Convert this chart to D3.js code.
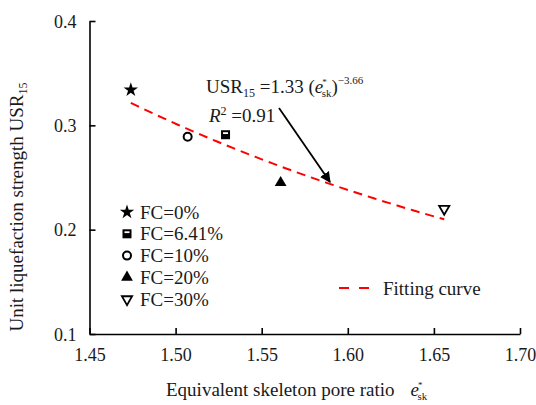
<!DOCTYPE html>
<html>
<head>
<meta charset="utf-8">
<script src="https://cdn.jsdelivr.net/npm/d3@7"></script>
</head>
<body style="margin:0">
<svg id="chart" width="536" height="405"></svg>
<script>
// data
var groups = ["FC=0%", "FC=6.41%", "FC=10%", "FC=20%", "FC=30%"];
var voidRatio = [1.474, 1.529, 1.507, 1.561, 1.656];
var usr15 = [0.334, 0.291, 0.289, 0.245, 0.220];
var xTicks = [1.45, 1.50, 1.55, 1.60, 1.65, 1.70];
var yTicks = [0.1, 0.2, 0.3, 0.4];
// fit: USR15 = 1.33 * e^-3.66
var fitA = 1.33, fitB = -3.66;
var fitRange = [1.474, 1.656];

const svg = d3.select("#chart");
const plotLeft = 89.5, plotRight = 520, plotTop = 21, plotBottom = 334;

var x = d3.scaleLinear().domain([1.45, 1.70]).range([plotLeft, plotRight]);
var y = d3.scaleLinear().domain([0.1, 0.4]).range([plotBottom, plotTop]);

function txt(sel, size) {
  return sel.style("font-family", "'Liberation Serif'").style("font-size", size + "px").attr("fill", "#1a1a1a");
}

// axes, ticks pointing inward
var xAxis = d3.axisBottom(x).tickValues(xTicks).tickSizeInner(-6).tickSizeOuter(0)
  .tickFormat(d3.format(".2f")).tickPadding(14);
var yAxis = d3.axisLeft(y).tickValues(yTicks).tickSizeInner(-6).tickSizeOuter(0)
  .tickFormat(d3.format(".1f")).tickPadding(13);

var gx = svg.append("g").attr("transform", "translate(0," + plotBottom + ")").call(xAxis);
var gy = svg.append("g").attr("transform", "translate(" + plotLeft + ",0)").call(yAxis);
[gx, gy].forEach(function (g) {
  g.attr("font-family", null);
  g.select(".domain").attr("stroke", "#000").attr("stroke-width", 1.6);
  g.selectAll(".tick line").attr("stroke", "#000").attr("stroke-width", 1.6);
  txt(g.selectAll(".tick text"), 18);
});
gy.selectAll(".tick text").attr("dy", "0.35em");

// fitting curve
var fitPts = d3.range(0, 41).map(function (i) {
  var e = fitRange[0] + (fitRange[1] - fitRange[0]) * i / 40;
  return [e, fitA * Math.pow(e, fitB)];
});
svg.append("path")
  .datum(fitPts)
  .attr("d", d3.line().x(function (d) { return x(d[0]); }).y(function (d) { return y(d[1]); }))
  .attr("fill", "none")
  .attr("stroke", "#ff0000")
  .attr("stroke-width", 2)
  .attr("stroke-dasharray", "9,6");

// marker drawing
function drawMarker(g, i) {
  if (i === 0) {
    g.append("path").attr("d", d3.symbol().type(d3.symbolStar).size(65)).attr("fill", "#000");
  } else if (i === 1) {
    g.append("rect").attr("x", -4.5).attr("y", -4.5).attr("width", 9).attr("height", 9).attr("fill", "#000");
    g.append("rect").attr("x", -2.5).attr("y", -2.5).attr("width", 5).attr("height", 1.8).attr("fill", "#fff");
  } else if (i === 2) {
    g.append("circle").attr("r", 4).attr("fill", "#fff").attr("stroke", "#000").attr("stroke-width", 2);
  } else if (i === 3) {
    g.append("path").attr("d", d3.symbol().type(d3.symbolTriangle).size(60)).attr("fill", "#000");
  } else {
    g.append("path").attr("d", d3.symbol().type(d3.symbolTriangle).size(45))
      .attr("transform", "rotate(180)")
      .attr("fill", "#fff").attr("stroke", "#000").attr("stroke-width", 1.8);
  }
}

groups.forEach(function (name, i) {
  var g = svg.append("g").attr("transform", "translate(" + x(voidRatio[i]) + "," + y(usr15[i]) + ")");
  drawMarker(g, i);
});

// legend
var legend = svg.append("g");
groups.forEach(function (name, i) {
  var row = legend.append("g").attr("transform", "translate(127," + (212 + i * 21.8) + ")");
  drawMarker(row, i);
  txt(row.append("text").attr("x", 13).attr("dy", "0.35em"), 19).text(name);
});
legend.append("line")
  .attr("x1", 339).attr("x2", 372).attr("y1", 288).attr("y2", 288)
  .attr("stroke", "#ff0000").attr("stroke-width", 2).attr("stroke-dasharray", "10,10");
txt(legend.append("text").attr("x", 383).attr("y", 288).attr("dy", "0.35em"), 19).text("Fitting curve");

// equation annotation
var eq = txt(svg.append("text").attr("x", 206).attr("y", 93), 19);
eq.append("tspan").text("USR");
eq.append("tspan").attr("dy", 4).style("font-size", "12px").text("15");
eq.append("tspan").attr("dy", -4).text(" =1.33 (");
eq.append("tspan").style("font-style", "italic").text("e");
eq.append("tspan").attr("dy", -8).attr("dx", -1).style("font-size", "9px").text("*");
eq.append("tspan").attr("dy", 12).attr("dx", -5).style("font-size", "11px").text("sk");
eq.append("tspan").attr("dy", -4).text(")");
eq.append("tspan").attr("dy", -9).style("font-size", "11px").text("\u22123.66");

var r2 = txt(svg.append("text").attr("x", 209).attr("y", 122), 19);
r2.append("tspan").style("font-style", "italic").text("R");
r2.append("tspan").attr("dy", -7).style("font-size", "12px").text("2");
r2.append("tspan").attr("dy", 7).text(" =0.91");

// arrow
svg.append("defs").append("marker")
  .attr("id", "arrowHead")
  .attr("viewBox", "0 0 10 10")
  .attr("refX", 9).attr("refY", 5)
  .attr("markerWidth", 6).attr("markerHeight", 6)
  .attr("markerUnits", "strokeWidth")
  .attr("orient", "auto")
  .append("path").attr("d", "M0,0 L10,5 L0,10 Z").attr("fill", "#000");
svg.append("line")
  .attr("x1", 279).attr("y1", 108).attr("x2", 330).attr("y2", 182)
  .attr("stroke", "#000").attr("stroke-width", 1.8)
  .attr("marker-end", "url(#arrowHead)");

// axis titles
var xt = txt(svg.append("text").attr("x", 166).attr("y", 396), 19);
xt.append("tspan").text("Equivalent skeleton pore ratio");
xt.append("tspan").attr("dx", 16).style("font-style", "italic").text("e");
xt.append("tspan").attr("dy", -8).attr("dx", -1).style("font-size", "9px").text("*");
xt.append("tspan").attr("dy", 12).attr("dx", -5).style("font-size", "11px").text("sk");

var yt = txt(svg.append("text")
  .attr("transform", "translate(23,207) rotate(-90)")
  .attr("text-anchor", "middle"), 19);
yt.append("tspan").text("Unit liquefaction strength USR");
yt.append("tspan").attr("dy", 4).style("font-size", "12px").text("15");
</script>
</body>
</html>
